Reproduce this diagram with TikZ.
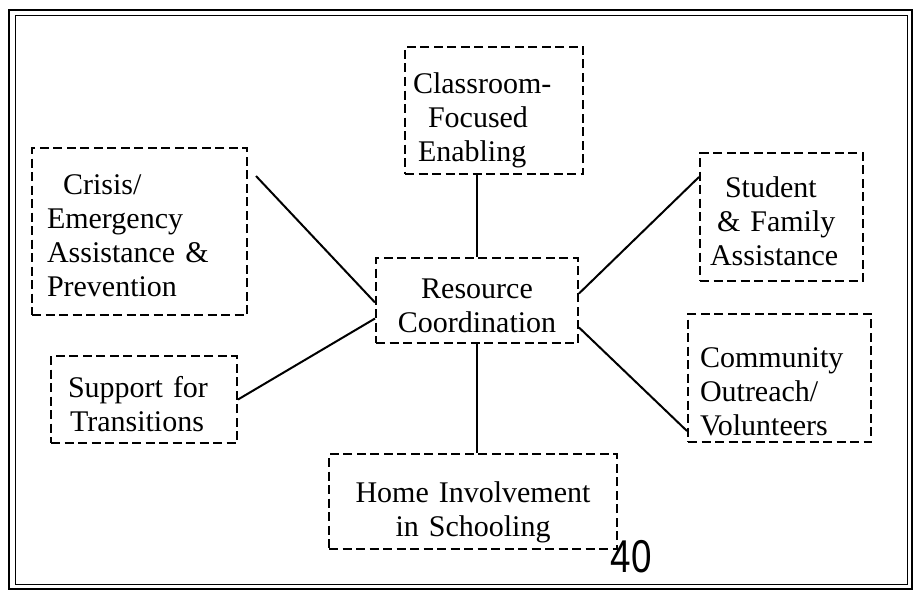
\documentclass[tikz,border=0pt]{standalone}
\usepackage{fontspec}
\setmainfont{Liberation Serif}
\newfontfamily\pagenumfont{Liberation Sans}
\usepackage{tikz}
\usetikzlibrary{shapes.geometric, arrows, positioning, calc}

\tikzset{
	area/.style = {draw, dash pattern=on 9pt off 4.5pt, line width=2pt, inner ysep=0pt,
		font=\fontsize{30}{34}\selectfont},
	leftarea/.style = {area, align=left},
	midarea/.style = {area, align=center},
	drop/.style = {execute at begin node={\rule{0pt}{#1}}},% taller first line, text sits lower
	link/.style = {line width=2pt},
}

\begin{document}
\begin{tikzpicture}[x=1pt,y=-1pt]
				\useasboundingbox (0,0) rectangle (916,594);
				\draw[line width=2.6pt] (9,10) rectangle (912,589);% outer frame
				\draw[line width=1pt] (15,16) rectangle (907,584);% inner frame
				
				\node[leftarea, drop=41pt, text width=162pt, inner xsep=8pt, minimum height=127pt] (class) at (494,110.5)
					{Classroom-\\\hspace*{15pt}Focused\\\hspace*{5pt}Enabling};
				\node[leftarea, drop=29pt, text width=185pt, inner xsep=15pt, minimum height=167pt] (crisis) at (139.5,231.5)
					{\hspace*{16pt}Crisis/\\Emergency\\Assistance \&\\Prevention};
				\node[leftarea, drop=29pt, text width=143pt, inner xsep=10pt, minimum height=128pt] (stud) at (781.5,217)
					{\hspace*{15pt}Student\\\hspace*{7pt}\& Family\\Assistance};
				
				\node[midarea, drop=31pt, text width=186pt, inner xsep=8pt, minimum height=85pt] (res) at (477,300.5)
					{Resource\\Coordination};
				
				\node[leftarea, drop=31pt, text width=152pt, inner xsep=17pt, minimum height=87pt] (supp) at (144,399.5)
					{Support for\\\hspace*{2pt}Transitions};
				\node[leftarea, drop=47pt, text width=159pt, inner xsep=12pt, minimum height=128pt] (comm) at (779.5,378)
					{Community\\Outreach/\\Volunteers};
				\node[midarea, drop=43pt, text width=272pt, inner xsep=8pt, minimum height=95pt] (home) at (473,501.5)
					{Home Involvement\\in Schooling};
				
				\node[font=\pagenumfont\fontsize{46}{46}\selectfont, xscale=0.8, inner sep=0pt] (pnum) at (631,557) {40};
				
				%%%%%%%%%%%%%%%%%%%%%%%%%%%%%%
				
				\draw[link] (class.south -| res.north) -- (res.north);
				\draw[link] ($(crisis.north east)+(8,29)$) -- ($(res.west)+(0,2)$);
				\draw[link] (supp.east) -- ($(res.west)+(0,18)$);
				\draw[link] ($(res.east)+(0,-7)$) -- ($(stud.north west)+(0,25)$);
				\draw[link] ($(res.east)+(0,27)$) -- ($(comm.south west)+(0,-12)$);
				\draw[link] (res.south) -- (res.south |- home.north);
				
\end{tikzpicture}
\end{document}
